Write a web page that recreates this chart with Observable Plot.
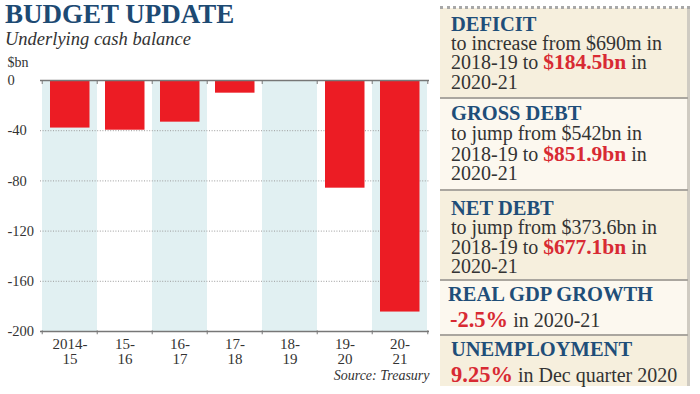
<!DOCTYPE html>
<html><head><meta charset="utf-8">
<script src="https://cdn.jsdelivr.net/npm/d3@7"></script>
<script src="https://cdn.jsdelivr.net/npm/@observablehq/plot@0.6"></script>
<style>
html,body{margin:0;padding:0;background:#fff;}
body{width:700px;height:394px;position:relative;overflow:hidden;font-family:"Liberation Serif","DejaVu Serif",serif;color:#333;}
.abs{position:absolute;white-space:nowrap;line-height:0.9;}
#title{left:5px;top:1px;font-size:27px;font-weight:bold;color:#1d4a73;line-height:1;}
#subtitle{left:5px;top:29.5px;font-size:18.5px;font-style:italic;color:#333;line-height:1;}
#chart{position:absolute;left:0;top:50px;}
.box{position:absolute;left:440px;width:250px;box-sizing:border-box;border-right:3px solid #cfcbc2;}
.boxA{background:#f6efdd;}
.boxB{background:#fcf8ef;}
#dots{position:absolute;left:440px;top:6px;width:250px;height:0;border-top:3px dotted #a8a8a8;}
.sep{position:absolute;left:440px;width:248px;height:2px;background:#aaa69f;}
.hd{font-size:20.5px;font-weight:bold;color:#1f4e79;}
.bd{font-size:20px;color:#333;}
.red{color:#d82a33;font-weight:bold;font-size:21.5px;line-height:0;}
.red2{color:#d82a33;font-weight:bold;font-size:22.5px;line-height:0;}
</style>
</head><body>
<div id="title" class="abs">BUDGET UPDATE</div>
<div id="subtitle" class="abs">Underlying cash balance</div>
<div id="chart"></div>

<div class="box boxA" style="top:8px;height:90px"></div>
<div class="box boxB" style="top:98px;height:92px"></div>
<div class="box boxA" style="top:190px;height:90px"></div>
<div class="box boxB" style="top:280px;height:55px"></div>
<div class="box boxA" style="top:335px;height:51px"></div>
<div id="dots"></div>
<div class="sep" style="top:97px"></div>
<div class="sep" style="top:189px"></div>
<div class="sep" style="top:279px"></div>
<div class="sep" style="top:334px"></div>

<div class="abs hd" style="left:451px;top:15px">DEFICIT</div>
<div class="abs bd" style="left:451px;top:33.8px">to increase from $690m in</div>
<div class="abs bd" style="left:451px;top:53.3px">2018-19 to <span class="red">$184.5bn</span> in</div>
<div class="abs bd" style="left:451px;top:73.3px">2020-21</div>

<div class="abs hd" style="left:451px;top:104.4px">GROSS DEBT</div>
<div class="abs bd" style="left:451px;top:124.3px">to jump from $542bn in</div>
<div class="abs bd" style="left:451px;top:144.8px">2018-19 to <span class="red">$851.9bn</span> in</div>
<div class="abs bd" style="left:451px;top:164.3px">2020-21</div>

<div class="abs hd" style="left:451px;top:198.9px">NET DEBT</div>
<div class="abs bd" style="left:451px;top:217.8px">to jump from $373.6bn in</div>
<div class="abs bd" style="left:451px;top:237.8px">2018-19 to <span class="red">$677.1bn</span> in</div>
<div class="abs bd" style="left:451px;top:256.8px">2020-21</div>

<div class="abs hd" style="left:448px;top:285.4px">REAL GDP GROWTH</div>
<div class="abs bd" style="left:450px;top:310.8px"><span class="red2">-2.5%</span> in 2020-21</div>

<div class="abs hd" style="left:451px;top:340.4px">UNEMPLOYMENT</div>
<div class="abs bd" style="left:451px;top:365.8px"><span class="red2">9.25%</span> in Dec quarter 2020</div>

<script>
const years = ["2014-15","2015-16","2016-17","2017-18","2018-19","2019-20","2020-21"];
const tickLabels = ["2014-\n15","15-\n16","16-\n17","17-\n18","18-\n19","19-\n20","20-\n21"];
const balance = [-37.9, -39.6, -33.2, -10.1, -0.69, -85.8, -184.5];
const shadedYears = ["2014-15","2016-17","2018-19","2020-21"];
const yTicks = [0, -40, -80, -120, -160, -200];
const gridValues = [-40, -80, -120, -160];

const data = years.map((year, i) => ({year, value: balance[i], label: tickLabels[i]}));

const W = 440, ML = 40, MR = 11;
const bw = (W - ML - MR) / years.length;
const lineColor = "#777";

const chart = Plot.plot({
  width: W, height: 344,
  marginTop: 30, marginBottom: 63, marginLeft: ML, marginRight: MR,
  x: {domain: years, padding: 0, axis: null},
  y: {domain: [-200, 0], axis: null},
  style: {fontFamily: "Liberation Serif, serif", background: "transparent", color: "#333", overflow: "visible"},
  marks: [
    Plot.barY(shadedYears, {x: d => d, y1: 0, y2: -200, fill: "#e1f0f2"}),
    Plot.ruleY(gridValues, {stroke: "#9b9b9b", strokeDasharray: "1,1.6"}),
    Plot.barY(data, {x: "year", y: "value", fill: "#ec1c24", insetLeft: 8, insetRight: 7.5}),
    Plot.ruleY([0, -200], {stroke: lineColor, strokeWidth: 1.3}),
    Plot.ruleX(years, {x: d => d, y1: 0, y2: -3.2, dx: -bw / 2, stroke: lineColor}),
    Plot.ruleX(years.slice(-1), {x: d => d, y1: 0, y2: -3.2, dx: bw / 2, stroke: lineColor}),
    Plot.ruleX(years, {x: d => d, y1: -199.5, y2: -202.6, dx: -bw / 2, stroke: lineColor}),
    Plot.ruleX(years.slice(-1), {x: d => d, y1: -199.5, y2: -202.6, dx: bw / 2, stroke: lineColor}),
    Plot.text(yTicks, {y: d => d, text: d => String(d), frameAnchor: "left", dx: -33, textAnchor: "start", fontSize: 14.5, fill: "#333"}),
    Plot.text(data, {x: "year", y: () => -200, text: "label", lineAnchor: "top", dy: 7.5, fontSize: 15, lineHeight: 0.97, fill: "#333"}),
    Plot.text(["$bn"], {frameAnchor: "top-left", textAnchor: "start", lineAnchor: "bottom", dx: -33, dy: -14, fontSize: 14, fill: "#333"}),
    Plot.text(["Source: Treasury"], {frameAnchor: "bottom-right", textAnchor: "end", lineAnchor: "bottom", dy: 48, fontSize: 14, fontStyle: "italic", fill: "#333"})
  ]
});
document.getElementById("chart").appendChild(chart);
</script>
</body></html>
